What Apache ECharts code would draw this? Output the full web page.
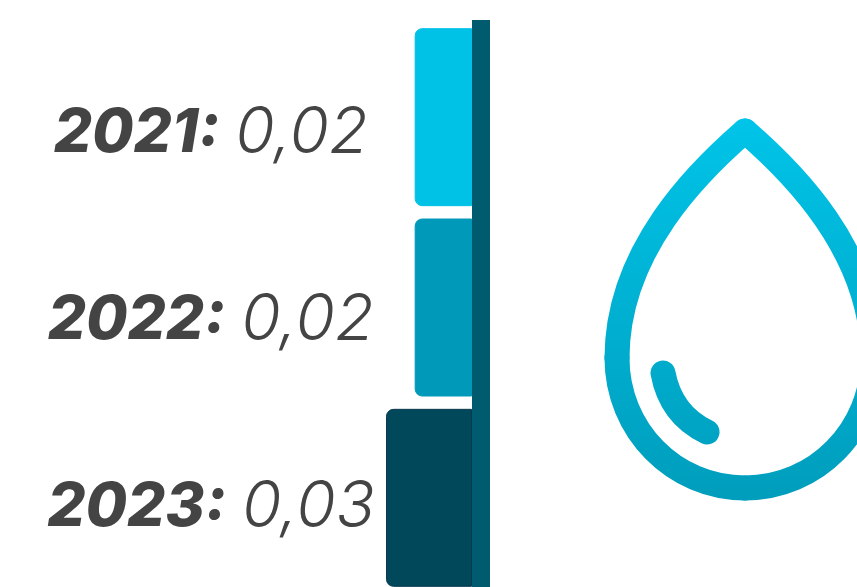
<!DOCTYPE html>
<html>
<head>
<meta charset="utf-8">
<script src="https://cdn.jsdelivr.net/npm/echarts@6/dist/echarts.min.js"></script>
<style>
	html, body { margin: 0; padding: 0; background: #fff; overflow: hidden; height: 587px; }
	/* the third bar runs off the bottom of the picture, so the canvas is taller than the window */
	#draw { width: 857px; height: 620px; }
</style>
</head>
<body>
<div id="draw"></div>
<script>
	const years = ['2021', '2022', '2023'];
	const values = [0.02, 0.02, 0.03];
	const labels = ['0,02', '0,02', '0,03'];
	const barColors = ['#00c2e6', '#0099ba', '#00485a'];
	const barBorders = ['#00c2e6', '#0099ba', '#0b3a50'];

	// stroke colour of the drop icon, top to bottom
	const dropColor = {
		type: 'linear', global: true, x: 0, y: 118, x2: 0, y2: 500,
		colorStops: [
			{ offset: 0, color: '#00c4e8' },
			{ offset: 1, color: '#009dbc' }
		]
	};
	const dropStyle = { stroke: dropColor, lineWidth: 25, lineCap: 'round', fill: null };

	function dropPart(x1, y1, cpx1, cpy1, cpx2, cpy2, x2, y2) {
		return {
			type: 'bezierCurve',
			shape: { x1, y1, cpx1, cpy1, cpx2, cpy2, x2, y2 },
			style: dropStyle
		};
	}

	let myChart = echarts.init(document.getElementById('draw'));
	myChart.setOption({
		animation: false,
		backgroundColor: '#fff',
		// first grid holds the bars, second one only the text rows (they sit a bit tighter)
		grid: [
			{ left: 386, width: 86, top: 22, height: 571 },
			{ left: 386, width: 86, top: 40, height: 561 }
		],
		xAxis: [
			{ type: 'value', gridIndex: 0, inverse: true, min: 0, max: 0.03, show: false },
			{ type: 'value', gridIndex: 1, inverse: true, min: 0, max: 0.03, show: false }
		],
		yAxis: [
			{
				type: 'category',
				gridIndex: 0,
				inverse: true,
				data: years,
				axisLine: { show: false },
				axisTick: { show: false },
				axisLabel: { show: false }
			},
			{
				type: 'category',
				gridIndex: 1,
				inverse: true,
				data: years,
				axisLine: { show: false },
				axisTick: { show: false },
				axisLabel: {
					margin: 175,
					align: 'center',
					formatter: function (value, index) {
						return '{y|' + value + ':}{v|' + labels[index] + '}';
					},
					rich: {
						y: { fontFamily: 'Inter', fontSize: 60, fontWeight: 800, fontStyle: 'italic', color: '#444' },
						v: { fontFamily: 'Inter', fontSize: 64, fontWeight: 300, fontStyle: 'italic', color: '#444', padding: [0, 0, 0, 16] }
					}
				}
			}
		],
		series: [{
			type: 'bar',
			barWidth: 178,
			data: values.map(function (v, i) {
				return {
					value: v,
					itemStyle: {
						color: barColors[i],
						borderColor: barBorders[i],
						borderWidth: 1,
						borderRadius: [7, 0, 0, 7]
					}
				};
			})
		}],
		graphic: [
			{ type: 'rect', z: 100, shape: { x: 472, y: 20, width: 18, height: 567 }, style: { fill: '#005b6e' } },
			dropPart(745, 131, 700, 170, 617, 250, 617, 358),
			dropPart(617, 358, 617, 430, 674, 488, 745, 488),
			dropPart(745, 488, 816, 488, 873, 430, 873, 358),
			dropPart(873, 358, 873, 250, 790, 170, 745, 131),
			dropPart(663, 373, 668, 400, 682, 420, 707, 432)
		]
	});
</script>
</body>
</html>
